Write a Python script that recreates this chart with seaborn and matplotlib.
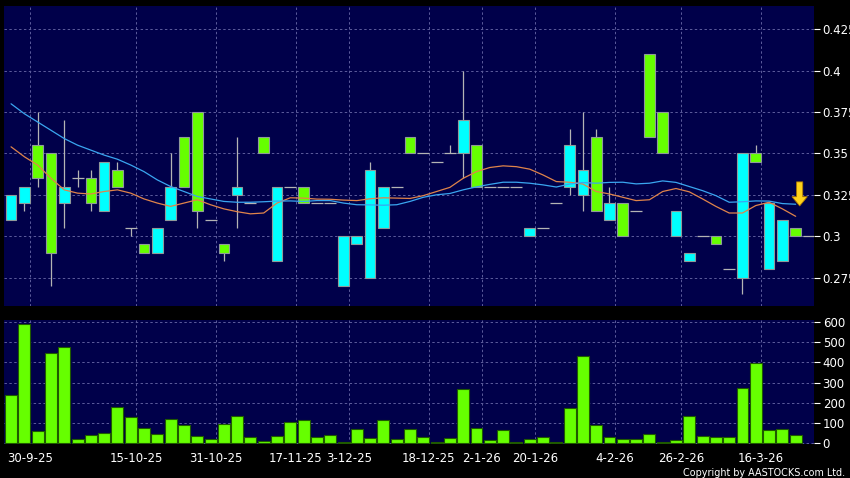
import numpy as np
import pandas as pd
import matplotlib
matplotlib.use("Agg")
import matplotlib.pyplot as plt
import seaborn as sns

# ── Données ──────────────────────────────────────────────────
opens = [0.325, 0.33, 0.335, 0.29, 0.33, 0.335, 0.32, 0.345, 0.33, 0.305,
         0.29, 0.305, 0.33, 0.33, 0.315, 0.31, 0.29, 0.33, 0.32, 0.35,
         0.33, 0.33, 0.32, 0.32, 0.32, 0.30, 0.30, 0.34, 0.33, 0.33,
         0.35, 0.35, 0.345, 0.35, 0.37, 0.33, 0.33, 0.33, 0.33, 0.305,
         0.305, 0.32, 0.355, 0.34, 0.315, 0.32, 0.30, 0.315, 0.36, 0.35,
         0.315, 0.29, 0.30, 0.295, 0.28, 0.35, 0.345, 0.32, 0.31, 0.30, 0.30]
closes = [0.31, 0.32, 0.355, 0.35, 0.32, 0.335, 0.335, 0.315, 0.34, 0.305,
          0.295, 0.29, 0.31, 0.36, 0.375, 0.31, 0.295, 0.325, 0.32, 0.36,
          0.285, 0.33, 0.33, 0.32, 0.32, 0.27, 0.295, 0.275, 0.305, 0.33,
          0.36, 0.35, 0.345, 0.35, 0.35, 0.355, 0.33, 0.33, 0.33, 0.30,
          0.305, 0.32, 0.33, 0.325, 0.36, 0.31, 0.32, 0.315, 0.41, 0.375,
          0.30, 0.285, 0.30, 0.30, 0.28, 0.275, 0.35, 0.28, 0.285, 0.305, 0.30]
highs = [0.325, 0.33, 0.375, 0.35, 0.37, 0.34, 0.34, 0.345, 0.345, 0.305,
         0.295, 0.305, 0.35, 0.36, 0.375, 0.31, 0.295, 0.36, 0.32, 0.36,
         0.33, 0.33, 0.33, 0.32, 0.32, 0.30, 0.30, 0.345, 0.33, 0.33,
         0.36, 0.35, 0.345, 0.355, 0.40, 0.355, 0.33, 0.33, 0.33, 0.305,
         0.305, 0.32, 0.365, 0.375, 0.365, 0.33, 0.32, 0.315, 0.41, 0.375,
         0.315, 0.29, 0.30, 0.30, 0.28, 0.35, 0.355, 0.32, 0.31, 0.305, 0.30]
lows = [0.31, 0.315, 0.33, 0.27, 0.305, 0.33, 0.315, 0.315, 0.33, 0.30,
        0.29, 0.29, 0.31, 0.33, 0.305, 0.31, 0.285, 0.305, 0.32, 0.35,
        0.285, 0.33, 0.32, 0.32, 0.32, 0.27, 0.295, 0.275, 0.305, 0.33,
        0.35, 0.35, 0.345, 0.35, 0.335, 0.33, 0.33, 0.33, 0.33, 0.30,
        0.305, 0.32, 0.325, 0.315, 0.315, 0.31, 0.30, 0.315, 0.36, 0.35,
        0.30, 0.285, 0.30, 0.295, 0.28, 0.265, 0.345, 0.28, 0.285, 0.30, 0.30]

volumes = [239, 588, 63, 447, 476, 20, 43, 51, 179, 128,
           76, 46, 121, 91, 36, 20, 96, 136, 31, 12,
           36, 103, 116, 31, 40, 5, 71, 27, 116, 23,
           71, 31, 5, 28, 267, 76, 17, 66, 5, 23,
           33, 5, 176, 431, 91, 31, 23, 20, 46, 7,
           17, 136, 36, 31, 31, 275, 399, 66, 71, 40]

ma_short = [0.354, 0.348, 0.343, 0.335, 0.328, 0.326, 0.3255, 0.327, 0.328, 0.326,
            0.3225, 0.320, 0.318, 0.320, 0.322, 0.319, 0.3165, 0.3148, 0.3135, 0.314,
            0.320, 0.3232, 0.323, 0.3224, 0.3223, 0.3218, 0.3215, 0.3226, 0.3232, 0.323,
            0.3228, 0.3245, 0.327, 0.3295, 0.335, 0.339, 0.3415, 0.3425, 0.342, 0.3405,
            0.337, 0.333, 0.3326, 0.3315, 0.327, 0.3255, 0.3235, 0.3215, 0.322, 0.327,
            0.3288, 0.3268, 0.3225, 0.318, 0.314, 0.314, 0.3185, 0.3205, 0.3165, 0.312]
ma_long = [0.380, 0.374, 0.369, 0.364, 0.359, 0.355, 0.352, 0.349, 0.3465, 0.343,
           0.339, 0.334, 0.330, 0.327, 0.324, 0.3225, 0.321, 0.3205, 0.3205, 0.3208,
           0.3212, 0.3213, 0.321, 0.3215, 0.3215, 0.320, 0.319, 0.3189, 0.3187, 0.319,
           0.321, 0.3235, 0.325, 0.3258, 0.328, 0.3298, 0.3313, 0.3326, 0.3326, 0.332,
           0.331, 0.3297, 0.3315, 0.3324, 0.332, 0.3325, 0.3326, 0.3316, 0.332, 0.3334,
           0.3325, 0.330, 0.3275, 0.3245, 0.3205, 0.3208, 0.3213, 0.3212, 0.3197, 0.3193]

tick_days = [1, 9, 15, 21, 25, 31, 35, 39, 45, 50, 56]
tick_labels = ["30-9-25", "15-10-25", "31-10-25", "17-11-25", "3-12-25", "18-12-25",
               "2-1-26", "20-1-26", "4-2-26", "26-2-26", "16-3-26"]
price_ticks = [0.275, 0.3, 0.325, 0.35, 0.375, 0.4, 0.425]
vol_ticks = [0, 100, 200, 300, 400, 500, 600]

# ── Tableaux ─────────────────────────────────────────────────
df = pd.DataFrame({"open": opens, "high": highs, "low": lows, "close": closes})
df["day"] = np.arange(len(df))
vol = pd.DataFrame({"day": np.arange(len(volumes)), "vol": volumes})
ma = pd.DataFrame({"day": np.arange(len(ma_short)), "short": ma_short, "long": ma_long})

# ── Style ────────────────────────────────────────────────────
sns.set_style("dark")
plt.rcParams["font.family"] = ["DejaVu Sans"]
NAVY = "#00004a"
GREEN = "#66ff00"
CYAN = "#00ffff"
GRID = "#5c5c9c"

fig = plt.figure(figsize=(8.5, 4.78), dpi=100, facecolor="black")
W, H = 850, 478
ax = fig.add_axes([4 / W, 1 - 306 / H, 810.3 / W, 300 / H])
axv = fig.add_axes([4 / W, 1 - 444 / H, 810.3 / W, 124 / H])

for a in (ax, axv):
    a.set_facecolor(NAVY)
    for s in a.spines.values():
        s.set_visible(False)
    a.grid(True, color=GRID, linestyle=(0, (2.5, 2.5)), linewidth=0.7)
    a.set_axisbelow(True)

# ── Chandeliers ──────────────────────────────────────────────
body = df[df["open"] != df["close"]]
doji = df[df["open"] == df["close"]]
up = body["close"] > body["open"]
ax.vlines(df["day"], df["low"], df["high"], color="#b4b4b4", lw=0.9, zorder=2)
ax.bar(body["day"], (body["close"] - body["open"]).abs(),
       bottom=body[["open", "close"]].min(axis=1), width=0.8,
       color=np.where(up, GREEN, CYAN), edgecolor="#8f9a9a", linewidth=0.8, zorder=3)
ax.hlines(doji["close"], doji["day"] - 0.45, doji["day"] + 0.45,
          color="#b4b4b4", lw=0.9, zorder=3)

sns.lineplot(data=ma, x="day", y="short", ax=ax, color="#e0844a", lw=0.9, zorder=4)
sns.lineplot(data=ma, x="day", y="long", ax=ax, color="#3aa6f0", lw=0.9, zorder=4)

last_x = df["day"].iloc[-1] - 0.7
last_y = ma_long[-1] - 0.001
ax.annotate("", xy=(last_x, last_y), xytext=(last_x, last_y + 0.0145),
            arrowprops=dict(arrowstyle="simple,head_length=0.33,head_width=0.55,tail_width=0.22",
                            fc="#ffd21a", ec="#b07a00", lw=0.6, mutation_scale=20,
                            shrinkA=0, shrinkB=0), zorder=6)

ax.set_xlim(-0.53, 60.4)
ax.set_ylim(0.2578, 0.4391)
ax.set_xticks([d + 0.4 for d in tick_days])
ax.set_xticklabels([])
ax.tick_params(axis="x", length=0)
ax.set_yticks(price_ticks)
ax.set_yticklabels([f"{t:g}" for t in price_ticks])
ax.yaxis.tick_right()
ax.tick_params(axis="y", colors="white", length=4, width=0.8, pad=2, labelsize=8.5)
ax.set_xlabel("")
ax.set_ylabel("")

# ── Volume ───────────────────────────────────────────────────
sns.barplot(data=vol, x="day", y="vol", native_scale=True, ax=axv, color=GREEN,
            saturation=1, edgecolor="#1f5a00", linewidth=0.8, width=0.9, zorder=3)
axv.set_xlim(-0.53, 60.4)
axv.set_ylim(-3.5, 610)
axv.set_xticks([d + 0.4 for d in tick_days])
axv.set_xticklabels(tick_labels)
axv.set_yticks(vol_ticks)
axv.yaxis.tick_right()
axv.tick_params(axis="y", colors="white", length=4, width=0.8, pad=2, labelsize=8.5)
axv.tick_params(axis="x", colors="white", length=3, width=0.8, pad=3, labelsize=8.5)
axv.set_xlabel("")
axv.set_ylabel("")

fig.text(845 / W, 1 - 476 / H, "Copyright by AASTOCKS.com Ltd.", ha="right", va="baseline",
         color="white", fontsize=6.9)

fig.savefig("out.png", dpi=100, facecolor="black")
